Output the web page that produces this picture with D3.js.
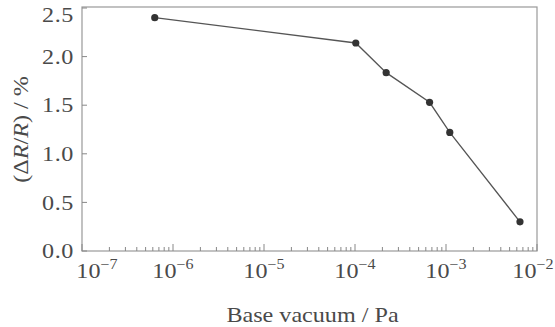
<!DOCTYPE html>
<html>
<head>
<meta charset="utf-8">
<script src="https://cdn.jsdelivr.net/npm/d3@7"></script>
<style>
  body { margin: 0; background: #fff; }
</style>
</head>
<body>
<script>
// Data
var pressure = [6.3e-7, 1.02e-4, 2.2e-4, 6.6e-4, 1.1e-3, 6.5e-3];   // Pa
var deltaR = [2.40, 2.14, 1.835, 1.53, 1.22, 0.30];                 // %
var yTicks = [0, 0.5, 1.0, 1.5, 2.0, 2.5];
var xDecades = [-7, -6, -5, -4, -3, -2];

var serif = "'Liberation Serif', 'Times New Roman', serif";
var stretch = 1.15;   // the original type is a bit wide
var ink = "#4a4a4a";

var margin = { top: 8, right: 18, bottom: 76, left: 82 },
    width = 555 - margin.left - margin.right,
    height = 327 - margin.top - margin.bottom;

var x = d3.scaleLog()
    .domain([1e-7, 1e-2])
    .range([0, width]);
var y = d3.scaleLinear()
    .domain([0, 2.5])
    .range([height, 0]);

var svg = d3.select("body")
    .append("svg")
    .attr("width", 555)
    .attr("height", 327)
    .attr("font-family", serif)
    .append("g")
    .attr("transform", `translate(${margin.left},${margin.top})`);

// frame
svg.append("rect")
    .attr("x", 0).attr("y", -1)
    .attr("width", width).attr("height", height + 1)
    .attr("fill", "none")
    .attr("stroke", "#999")
    .attr("stroke-width", 1.2);

// y ticks (inside)
svg.selectAll(".ytick")
    .data(yTicks)
    .enter().append("line")
    .attr("x1", 0).attr("x2", 5)
    .attr("y1", d => y(d)).attr("y2", d => y(d))
    .attr("stroke", "#888");

svg.selectAll(".ylab")
    .data(yTicks)
    .enter().append("text")
    .attr("transform", d => `translate(-8,${y(d) + (d === 2.5 ? 6.5 : 0)}) scale(${stretch},1)`)
    .attr("dy", "0.34em")
    .attr("fill", ink)
    .style("text-anchor", "end")
    .style("font-size", "21px")
    .style("letter-spacing", "0.5px")
    .text(d => d.toFixed(1));

// x ticks: majors and log minors (inside)
var minors = [];
xDecades.slice(0, -1).forEach(function (e) {
  for (var k = 2; k <= 9; k++) minors.push(k * Math.pow(10, e));
});
svg.selectAll(".xminor")
    .data(minors)
    .enter().append("line")
    .attr("x1", d => x(d)).attr("x2", d => x(d))
    .attr("y1", height).attr("y2", height - 4)
    .attr("stroke", "#888");
svg.selectAll(".xmajor")
    .data(xDecades)
    .enter().append("line")
    .attr("x1", d => x(Math.pow(10, d))).attr("x2", d => x(Math.pow(10, d)))
    .attr("y1", height).attr("y2", height - 7)
    .attr("stroke", "#888");

// first and last labels nudged inward, as in the original
var nudge = { "-7": 15, "-2": -4 };
var xl = svg.selectAll(".xlab")
    .data(xDecades)
    .enter().append("text")
    .attr("transform", d => `translate(${x(Math.pow(10, d)) + (nudge[d] || 0)},${height + 27}) scale(${stretch},1)`)
    .attr("fill", ink)
    .style("text-anchor", "middle")
    .style("font-size", "21px");
xl.append("tspan").text("10");
xl.append("tspan")
    .attr("dy", -9)
    .style("font-size", "14px")
    .text(d => "\u2212" + Math.abs(d));

// line + markers
var line = d3.line()
    .x((d, i) => x(pressure[i]))
    .y(d => y(d));
svg.append("path")
    .datum(deltaR)
    .attr("fill", "none")
    .attr("stroke", "#555")
    .attr("stroke-width", 1.3)
    .attr("d", line);
svg.selectAll(".pt")
    .data(deltaR)
    .enter().append("circle")
    .attr("cx", (d, i) => x(pressure[i]))
    .attr("cy", d => y(d))
    .attr("r", 3.6)
    .attr("fill", "#333");

// axis titles
svg.append("text")
    .attr("transform", `translate(${width / 2 + 3},${height + 71}) scale(${stretch},1)`)
    .attr("fill", ink)
    .style("text-anchor", "middle")
    .style("font-size", "21px")
    .text("Base vacuum / Pa");

var yt = svg.append("text")
    .attr("transform", `translate(${-margin.left + 28},${height / 2}) rotate(-90) scale(${stretch},1)`)
    .attr("fill", ink)
    .style("text-anchor", "middle")
    .style("font-size", "21px");
yt.append("tspan").text("(\u0394");
yt.append("tspan").style("font-style", "italic").text("R");
yt.append("tspan").text("/");
yt.append("tspan").style("font-style", "italic").text("R");
yt.append("tspan").text(") / %");
</script>
</body>
</html>
